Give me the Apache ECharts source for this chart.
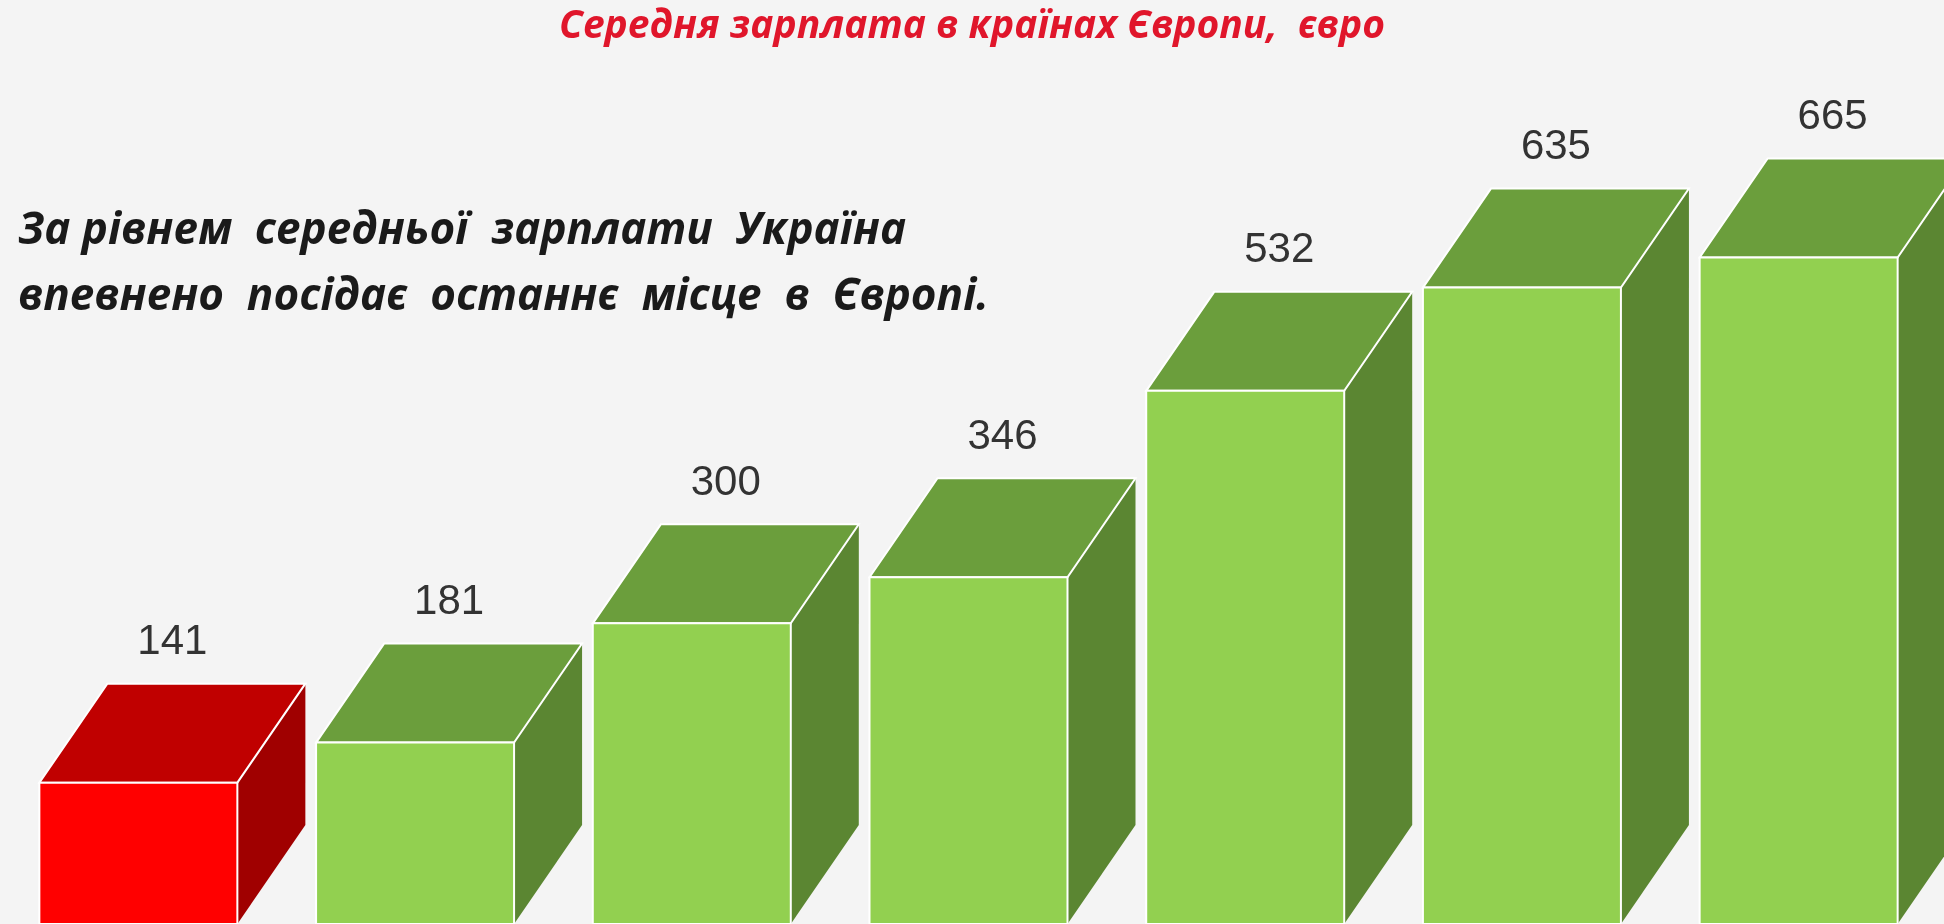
<!DOCTYPE html>
<html>
<head>
<meta charset="utf-8">
<script src="https://cdn.jsdelivr.net/npm/echarts@6/dist/echarts.min.js"></script>
<style>html,body{margin:0;padding:0;background:#f4f4f4;}#chart{width:1944px;height:924px;}</style>
</head>
<body>
<div id="chart"></div>
<script>
var categories = ['Україна', 'Країна 2', 'Країна 3', 'Країна 4', 'Країна 5', 'Країна 6', 'Країна 7'];
var salaries = [141, 181, 300, 346, 532, 635, 665];
var highlight = [true, false, false, false, false, false, false];

var chart = echarts.init(document.getElementById('chart'));
var DX = 68, DY = -99, W = 198;

function renderBar(params, api) {
    var top = api.coord([api.value(0), api.value(1)]);
    var base = api.coord([api.value(0), 0]);
    var red = highlight[params.dataIndex];
    var front = red ? '#ff0000' : '#92d050';
    var lid = red ? '#c00000' : '#6b9e3c';
    var side = red ? '#a00000' : '#5b8632';
    var x0 = top[0] - W / 2, x1 = top[0] + W / 2, y0 = top[1], y1 = base[1];
    return {
        type: 'group',
        children: [
            { type: 'polygon', shape: { points: [[x1, y0], [x1 + DX, y0 + DY], [x1 + DX, y1 + DY], [x1, y1]] }, style: { fill: side } },
            { type: 'polygon', shape: { points: [[x0, y0], [x0 + DX, y0 + DY], [x1 + DX, y0 + DY], [x1, y0]] }, style: { fill: lid, stroke: '#ffffff', lineWidth: 2 } },
            { type: 'rect', shape: { x: x0, y: y0, width: W, height: y1 - y0 }, style: { fill: front, stroke: '#ffffff', lineWidth: 2 } },
            { type: 'text', x: top[0] + DX / 2, y: y0 + DY - 20, style: { text: String(api.value(1)), fill: '#333333', font: '42px "Liberation Sans", sans-serif', textAlign: 'center', textVerticalAlign: 'bottom' } }
        ]
    };
}

var option = {
    backgroundColor: '#f4f4f4',
    title: {
        text: 'Середня зарплата в країнах Європи,  євро',
        left: 'center',
        top: 2,
        textStyle: { color: '#e0162b', fontSize: 39, fontStyle: 'italic', fontWeight: 'bold', fontFamily: 'Open Sans' }
    },
    graphic: [{
        type: 'text', left: 18, top: 198,
        style: { text: 'За рівнем  середньої  зарплати  Україна\nвпевнено  посідає  останнє  місце  в  Європі.', fill: '#1a1a1a', font: 'italic bold 44px "Open Sans", sans-serif', lineHeight: 66 }
    }],
    grid: { left: -32, right: 7, top: 22, bottom: -79 },
    xAxis: { type: 'category', data: categories, show: false },
    yAxis: { type: 'value', min: 0, max: 900, show: false },
    series: [{
        type: 'custom',
        renderItem: renderBar,
        data: salaries.map(function (v, i) { return [i, v]; })
    }]
};
chart.setOption(option);
</script>
</body>
</html>
